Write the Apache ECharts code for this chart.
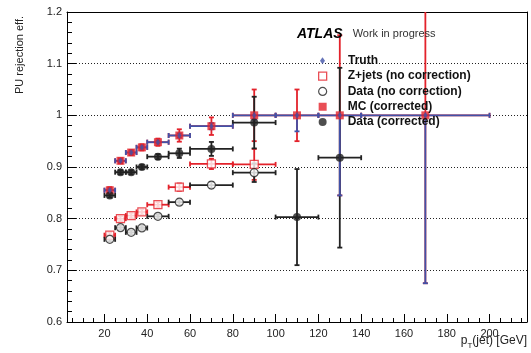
<!DOCTYPE html>
<html>
<head>
<meta charset="utf-8">
<script src="https://cdn.jsdelivr.net/npm/echarts@6/dist/echarts.min.js"></script>
<style>
  html, body { margin: 0; padding: 0; background: #fff; }
  #chart { width: 531px; height: 353px; }
</style>
</head>
<body>
<div id="chart"></div>
<script>
// bins in pT(jet) [GeV]
var binCenters = [22.5, 27.5, 32.5, 37.5, 45, 55, 70, 90, 110, 130, 170];
var binHalfWidths = [2.5, 2.5, 2.5, 2.5, 5, 5, 10, 10, 10, 10, 30];

// Truth (asymmetric errors, efficiency can't pass 1)
var truthEff = [0.855, 0.912, 0.928, 0.938, 0.948, 0.961, 0.979, 1.0, 1.0, 1.0, 1.0];
var truthErrLow = [0.003, 0.003, 0.003, 0.003, 0.003, 0.004, 0.006, 0.008, 0.031, 0.155, 0.325];
var truthErrHigh = [0.003, 0.003, 0.003, 0.003, 0.003, 0.004, 0.006, 0, 0, 0, 0];

// MC (corrected)
var mcCorrEff = [0.855, 0.912, 0.928, 0.938, 0.948, 0.961, 0.979, 1.0, 1.0, 1.0, 1.0];
var mcCorrErr = [0.006, 0.005, 0.005, 0.006, 0.007, 0.012, 0.017, 0.05, 0.05, 0.155, 0.325];

// Z+jets (no correction)
var zjetsEff = [0.768, 0.800, 0.806, 0.813, 0.827, 0.861, 0.906, 0.905];
var zjetsErr = [0.005, 0.005, 0.005, 0.005, 0.005, 0.007, 0.01, 0.03];

// Data (no correction)
var dataRawEff = [0.760, 0.7825, 0.7735, 0.782, 0.8045, 0.832, 0.865, 0.889];
var dataRawErr = [0.004, 0.004, 0.004, 0.004, 0.004, 0.005, 0.006, 0.018];

// Data (corrected)
var dataCorrEff = [0.845, 0.890, 0.890, 0.900, 0.920, 0.9265, 0.935, 0.986, 0.803, 0.918];
var dataCorrErr = [0.004, 0.004, 0.004, 0.004, 0.005, 0.009, 0.0135, 0.05, 0.093, 0.174];

var xLabelTicks = [20, 40, 60, 80, 100, 120, 140, 160, 180, 200];
var xMinorTicks = [5, 10, 15, 20, 25, 30, 35, 40, 45, 50, 55, 60, 65, 70, 75, 80, 85, 90, 95, 100,
  105, 110, 115, 120, 125, 130, 135, 140, 145, 150, 155, 160, 165, 170, 175, 180, 185, 190, 195, 200, 205, 210, 215];

var RED = '#e3222b';
var BLUE = '#4152a8';
var DARK = '#222222';
var FONT = '"Liberation Sans", Arial, Helvetica, sans-serif';

// [x, y, xLow, xHigh, yLow, yHigh]
function makePoints(eff, errLow, errHigh) {
  return eff.map(function (v, i) {
    return [binCenters[i], v, binHalfWidths[i], binHalfWidths[i], errLow[i], errHigh[i]];
  });
}

function errorBars(color) {
  return function (params, api) {
    var x = api.value(0), y = api.value(1);
    var xl = api.coord([x - api.value(2), y]);
    var xh = api.coord([x + api.value(3), y]);
    var yl = api.coord([x, y - api.value(4)]);
    var yh = api.coord([x, y + api.value(5)]);
    var st = { stroke: color, lineWidth: 1.8 };
    var cap = 2.5;
    var kids = [
      { type: 'line', shape: { x1: xl[0], y1: xl[1], x2: xh[0], y2: xh[1] }, style: st },
      { type: 'line', shape: { x1: xl[0], y1: xl[1] - cap, x2: xl[0], y2: xl[1] + cap }, style: st },
      { type: 'line', shape: { x1: xh[0], y1: xh[1] - cap, x2: xh[0], y2: xh[1] + cap }, style: st }
    ];
    if (api.value(4) > 0 || api.value(5) > 0) {
      kids.push({ type: 'line', shape: { x1: yl[0], y1: yl[1], x2: yh[0], y2: yh[1] }, style: st });
    }
    if (api.value(4) > 0) {
      kids.push({ type: 'line', shape: { x1: yl[0] - cap, y1: yl[1], x2: yl[0] + cap, y2: yl[1] }, style: st });
    }
    if (api.value(5) > 0) {
      kids.push({ type: 'line', shape: { x1: yh[0] - cap, y1: yh[1], x2: yh[0] + cap, y2: yh[1] }, style: st });
    }
    return { type: 'group', children: kids };
  };
}

var zjetsPts = makePoints(zjetsEff, zjetsErr, zjetsErr);
var dataRawPts = makePoints(dataRawEff, dataRawErr, dataRawErr);
var mcCorrPts = makePoints(mcCorrEff, mcCorrErr, mcCorrErr);
var dataCorrPts = makePoints(dataCorrEff, dataCorrErr, dataCorrErr);
var truthPts = makePoints(truthEff, truthErrLow, truthErrHigh);

function barSeries(name, pts, color) {
  return {
    name: name, type: 'custom', data: pts, clip: true,
    encode: { x: 0, y: 1 }, renderItem: errorBars(color), silent: true
  };
}
function markerSeries(name, pts, symbol, size, itemStyle) {
  return {
    name: name, type: 'scatter', data: pts.map(function (p) { return [p[0], p[1]]; }),
    symbol: symbol, symbolSize: size, itemStyle: itemStyle, clip: true
  };
}

var chart = echarts.init(document.getElementById('chart'));

var option = {
  animation: false,
  backgroundColor: '#fff',
  textStyle: { fontFamily: FONT },
  grid: { left: 67, right: 4, top: 12, bottom: 31, containLabel: false },
  title: {
    left: 297, top: 25, padding: 0,
    text: '{a|ATLAS}  {b|Work in progress}',
    textStyle: {
      rich: {
        a: { fontFamily: FONT, fontSize: 14, fontWeight: 'bold', fontStyle: 'italic', color: '#000' },
        b: { fontFamily: FONT, fontSize: 11, fontWeight: 'normal', color: '#333' }
      }
    }
  },
  legend: [{
    data: [{ name: 'Truth', icon: 'diamond', itemStyle: { color: BLUE } }],
    orient: 'vertical', left: 315, top: 48,
    itemWidth: 5, itemHeight: 7, itemGap: 0, selectedMode: false,
    textStyle: { fontFamily: FONT, fontSize: 12, fontWeight: 'bold', color: '#111', lineHeight: 15.5, padding: [0, 0, 0, 18] }
  }, {
    data: [
      { name: 'Z+jets (no correction)', icon: 'rect', itemStyle: { color: '#fff', borderColor: RED, borderWidth: 1.3 } },
      { name: 'Data (no correction)', icon: 'circle', itemStyle: { color: '#fff', borderColor: DARK, borderWidth: 1.2 } },
      { name: 'MC (corrected)', icon: 'rect', itemStyle: { color: RED } },
      { name: 'Data (corrected)', icon: 'circle', itemStyle: { color: DARK } }
    ],
    orient: 'vertical', left: 313, top: 63.5,
    itemWidth: 8, itemHeight: 8, itemGap: 0, selectedMode: false,
    textStyle: { fontFamily: FONT, fontSize: 12, fontWeight: 'bold', color: '#111', lineHeight: 15.3, padding: [0, 0, 0, 16] }
  }],
  xAxis: [{
    type: 'value', min: 2.5, max: 217.5, position: 'bottom',
    axisLine: { show: true, lineStyle: { color: '#000', width: 1 } },
    axisTick: { show: true, inside: true, length: 4, customValues: xMinorTicks, lineStyle: { color: '#000' } },
    axisLabel: { show: true, customValues: xLabelTicks, margin: 6, fontSize: 11, color: '#222', fontFamily: FONT },
    splitLine: { show: false }
  }, {
    type: 'value', min: 2.5, max: 217.5, position: 'bottom',
    axisLine: { show: false },
    axisTick: { show: true, inside: true, length: 8, customValues: xLabelTicks, lineStyle: { color: '#000' } },
    axisLabel: { show: false },
    splitLine: { show: false }
  }, {
    type: 'value', min: 2.5, max: 217.5, position: 'top',
    axisLine: { show: true, lineStyle: { color: '#000', width: 1 } },
    axisTick: { show: false }, axisLabel: { show: false }, splitLine: { show: false }
  }],
  yAxis: [{
    type: 'value', min: 0.6, max: 1.2, interval: 0.1, position: 'left',
    axisLine: { show: true, lineStyle: { color: '#000', width: 1 } },
    axisTick: { show: true, inside: true, length: 9, lineStyle: { color: '#000' } },
    minorTick: { show: true, splitNumber: 5, length: 5, lineStyle: { color: '#000' } },
    axisLabel: { margin: 5, fontSize: 11, color: '#222', fontFamily: FONT },
    splitLine: { show: true, lineStyle: { color: '#222', type: [1, 2], width: 1 } }
  }, {
    type: 'value', min: 0.6, max: 1.2, interval: 0.1, position: 'right',
    axisLine: { show: true, lineStyle: { color: '#000', width: 1 } },
    axisTick: { show: false }, axisLabel: { show: false }, splitLine: { show: false }
  }],
  graphic: [{
    type: 'text', x: 20, y: 55, rotation: Math.PI / 2,
    style: { text: 'PU rejection eff.', font: '11px ' + FONT, fill: '#222', align: 'center', verticalAlign: 'middle' }
  }, {
    type: 'text', right: 4, top: 335,
    style: {
      text: 'p{s|T}(jet) [GeV]', font: '12px ' + FONT, fill: '#222',
      rich: { s: { fontSize: 8, padding: [9, 0, 0, 0], fill: '#222' } }
    }
  }],
  series: [
    barSeries('zjets-err', zjetsPts, RED),
    markerSeries('Z+jets (no correction)', zjetsPts, 'rect', 8, { color: '#fff', borderColor: RED, borderWidth: 1.3 }),
    barSeries('dataRaw-err', dataRawPts, DARK),
    markerSeries('Data (no correction)', dataRawPts, 'circle', 8, { color: '#fff', borderColor: DARK, borderWidth: 1.2 }),
    barSeries('mcCorr-err', mcCorrPts, RED),
    markerSeries('MC (corrected)', mcCorrPts, 'rect', 8, { color: RED }),
    barSeries('dataCorr-err', dataCorrPts, DARK),
    markerSeries('Data (corrected)', dataCorrPts, 'circle', 8, { color: DARK }),
    barSeries('truth-err', truthPts, BLUE),
    markerSeries('Truth', truthPts, 'diamond', [4, 7], { color: BLUE })
  ]
};

chart.setOption(option);
</script>
</body>
</html>
